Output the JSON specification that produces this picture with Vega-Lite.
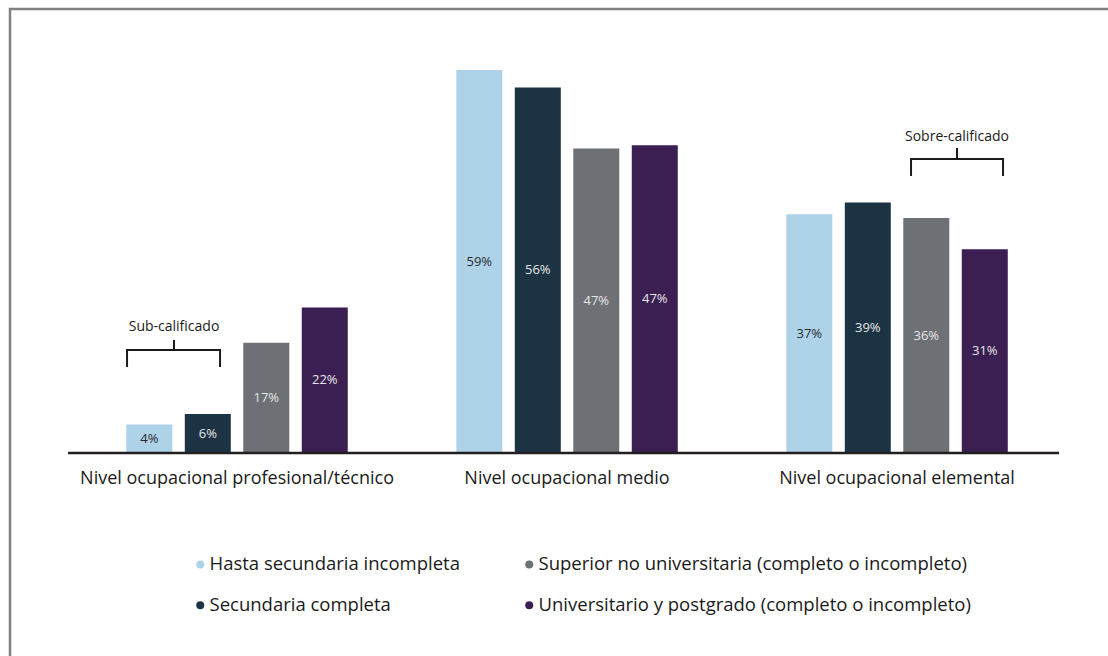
{
  "$schema": "https://vega.github.io/schema/vega-lite/v6.json",
  "autosize": {"type": "none"},
  "padding": {"left": 10, "top": 9, "right": 0, "bottom": 0},
  "width": 1110,
  "height": 660,
  "config": {
    "font": "Open Sans",
    "view": {"stroke": "#808080", "strokeWidth": 2.5}
  },
  "datasets": {
    "barras": [
      {"nivel": "Nivel ocupacional profesional/técnico", "serie": "Hasta secundaria incompleta", "valor": 0.044},
      {"nivel": "Nivel ocupacional profesional/técnico", "serie": "Secundaria completa", "valor": 0.06},
      {"nivel": "Nivel ocupacional profesional/técnico", "serie": "Superior no universitaria (completo o  incompleto)", "valor": 0.17},
      {"nivel": "Nivel ocupacional profesional/técnico", "serie": "Universitario y postgrado (completo o incompleto)", "valor": 0.224},
      {"nivel": "Nivel ocupacional medio", "serie": "Hasta secundaria incompleta", "valor": 0.59},
      {"nivel": "Nivel ocupacional medio", "serie": "Secundaria completa", "valor": 0.563},
      {"nivel": "Nivel ocupacional medio", "serie": "Superior no universitaria (completo o  incompleto)", "valor": 0.469},
      {"nivel": "Nivel ocupacional medio", "serie": "Universitario y postgrado (completo o incompleto)", "valor": 0.474},
      {"nivel": "Nivel ocupacional elemental", "serie": "Hasta secundaria incompleta", "valor": 0.368},
      {"nivel": "Nivel ocupacional elemental", "serie": "Secundaria completa", "valor": 0.386},
      {"nivel": "Nivel ocupacional elemental", "serie": "Superior no universitaria (completo o  incompleto)", "valor": 0.362},
      {"nivel": "Nivel ocupacional elemental", "serie": "Universitario y postgrado (completo o incompleto)", "valor": 0.314}
    ]
  },
  "data": {"name": "barras"},
  "layer": [
    {
      "layer": [
        {
          "mark": {"type": "bar"},
          "encoding": {
            "x": {
              "field": "nivel", "type": "nominal",
              "scale": {"domain": ["Nivel ocupacional profesional/técnico", "Nivel ocupacional medio", "Nivel ocupacional elemental"], "paddingInner": 0, "paddingOuter": 0.1818, "align": 0.517},
              "axis": {"title": null, "labelAngle": 0, "domain": false, "ticks": false, "grid": false, "labelPadding": 16, "labelFontSize": 18, "labelColor": "#1a1a1a", "labelFont": "Open Sans", "labelLimit": 0, "offset": -216}
            },
            "xOffset": {
              "field": "serie", "type": "nominal",
              "scale": {"domain": ["Hasta secundaria incompleta", "Secundaria completa", "Superior no universitaria (completo o  incompleto)", "Universitario y postgrado (completo o incompleto)"], "paddingInner": 0.2137, "paddingOuter": 0.928}
            },
            "y": {"field": "valor", "type": "quantitative", "scale": {"domain": [-0.3328, 0.6841], "nice": false, "zero": false}, "axis": null},
            "color": {
              "field": "serie", "type": "nominal",
              "scale": {
                "domain": ["Hasta secundaria incompleta", "Secundaria completa", "Superior no universitaria (completo o  incompleto)", "Universitario y postgrado (completo o incompleto)"],
                "range": ["#aed3e8", "#1c3344", "#6d7075", "#3b1e52"]
              },
              "legend": {"title": null, "orient": "none", "legendX": 181, "legendY": 546, "columns": 2, "columnPadding": 60, "rowPadding": 22, "symbolType": "circle", "symbolSize": 64, "symbolStrokeWidth": 0, "labelFontSize": 18.5, "labelFont": "Open Sans", "labelColor": "#1a1a1a", "labelOffset": 0, "labelLimit": 0, "padding": 0}
            }
          }
        },
        {
          "data": {"values": [{}]},
          "mark": {"type": "rule", "strokeWidth": 2.5, "color": "#231f20"},
          "encoding": {
            "x": {"datum": "Nivel ocupacional profesional/técnico", "bandPosition": -0.012},
            "x2": {"datum": "Nivel ocupacional elemental", "bandPosition": 0.991},
            "y": {"datum": 0}
          }
        },
        {
          "data": {"values": [{}]},
          "mark": {"type": "rule", "strokeWidth": 2, "color": "#1a1a1a", "strokeCap": "square"},
          "encoding": {"x": {"datum": "Nivel ocupacional profesional/técnico", "bandPosition": 0.1667}, "y": {"datum": 0.134}, "y2": {"datum": 0.1587}}
        },
        {
          "data": {"values": [{}]},
          "mark": {"type": "rule", "strokeWidth": 2, "color": "#1a1a1a", "strokeCap": "square"},
          "encoding": {"x": {"datum": "Nivel ocupacional profesional/técnico", "bandPosition": 0.4485}, "y": {"datum": 0.134}, "y2": {"datum": 0.1587}}
        },
        {
          "data": {"values": [{}]},
          "mark": {"type": "rule", "strokeWidth": 2, "color": "#1a1a1a", "strokeCap": "square"},
          "encoding": {"x": {"datum": "Nivel ocupacional profesional/técnico", "bandPosition": 0.1667}, "x2": {"datum": "Nivel ocupacional profesional/técnico", "bandPosition": 0.4485}, "y": {"datum": 0.1587}}
        },
        {
          "data": {"values": [{}]},
          "mark": {"type": "rule", "strokeWidth": 2, "color": "#1a1a1a", "strokeCap": "square"},
          "encoding": {"x": {"datum": "Nivel ocupacional profesional/técnico", "bandPosition": 0.309}, "y": {"datum": 0.1587}, "y2": {"datum": 0.1726}}
        },
        {
          "data": {"values": [{"texto": "Sub-calificado"}]},
          "mark": {"type": "text", "fontSize": 14, "font": "Open Sans", "color": "#1a1a1a", "baseline": "middle"},
          "encoding": {"x": {"datum": "Nivel ocupacional profesional/técnico", "bandPosition": 0.309}, "y": {"datum": 0.1941}, "text": {"field": "texto"}}
        },
        {
          "data": {"values": [{}]},
          "mark": {"type": "rule", "strokeWidth": 2, "color": "#1a1a1a", "strokeCap": "square"},
          "encoding": {"x": {"datum": "Nivel ocupacional elemental", "bandPosition": 0.5424}, "y": {"datum": 0.4284}, "y2": {"datum": 0.453}}
        },
        {
          "data": {"values": [{}]},
          "mark": {"type": "rule", "strokeWidth": 2, "color": "#1a1a1a", "strokeCap": "square"},
          "encoding": {"x": {"datum": "Nivel ocupacional elemental", "bandPosition": 0.8212}, "y": {"datum": 0.4284}, "y2": {"datum": 0.453}}
        },
        {
          "data": {"values": [{}]},
          "mark": {"type": "rule", "strokeWidth": 2, "color": "#1a1a1a", "strokeCap": "square"},
          "encoding": {"x": {"datum": "Nivel ocupacional elemental", "bandPosition": 0.5424}, "x2": {"datum": "Nivel ocupacional elemental", "bandPosition": 0.8212}, "y": {"datum": 0.453}}
        },
        {
          "data": {"values": [{}]},
          "mark": {"type": "rule", "strokeWidth": 2, "color": "#1a1a1a", "strokeCap": "square"},
          "encoding": {"x": {"datum": "Nivel ocupacional elemental", "bandPosition": 0.6818}, "y": {"datum": 0.453}, "y2": {"datum": 0.4684}}
        },
        {
          "data": {"values": [{"texto": "Sobre-calificado"}]},
          "mark": {"type": "text", "fontSize": 14, "font": "Open Sans", "color": "#1a1a1a", "baseline": "middle"},
          "encoding": {"x": {"datum": "Nivel ocupacional elemental", "bandPosition": 0.6818}, "y": {"datum": 0.4869}, "text": {"field": "texto"}}
        }
      ]
    },
    {
      "mark": {"type": "text", "fontSize": 13, "font": "Open Sans", "baseline": "middle"},
      "encoding": {
        "x": {"field": "nivel", "type": "nominal"},
        "xOffset": {"field": "serie", "type": "nominal"},
        "y": {"field": "valor", "type": "quantitative", "scale": {"domain": [-0.6656, 1.3682], "nice": false, "zero": false}, "axis": null},
        "text": {"field": "valor", "type": "quantitative", "format": ".0%"},
        "color": {"condition": {"test": "datum.serie === 'Hasta secundaria incompleta'", "value": "#2b2b2b"}, "value": "#e6e6e6"}
      }
    }
  ],
  "resolve": {"scale": {"y": "independent"}}
}
